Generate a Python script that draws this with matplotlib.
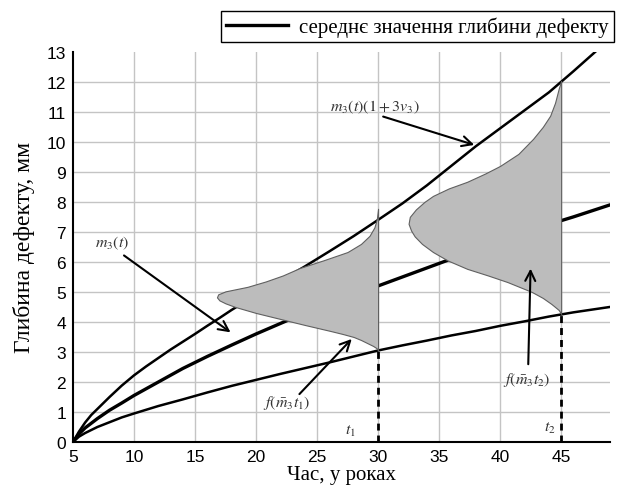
import numpy as np
import matplotlib
matplotlib.use("Agg")
from matplotlib import pyplot as plt

plt.rcParams['mathtext.fontset'] = 'stix'

# curves (time in years, depth in mm)
t_upper = [5, 5.5, 6, 6.5, 7, 7.5, 8, 9, 10, 11, 12, 13, 14, 15, 16, 17, 18, 20, 22, 24,
           26, 28, 30, 32, 34, 36, 38, 40, 42, 44, 46, 47.8]
d_upper = [0, 0.35, 0.65, 0.9, 1.1, 1.3, 1.5, 1.88, 2.22, 2.52, 2.8, 3.08, 3.34, 3.6, 3.87,
           4.13, 4.4, 4.9, 5.37, 5.85, 6.35, 6.86, 7.4, 7.95, 8.55, 9.2, 9.85, 10.45, 11.05,
           11.65, 12.35, 13.0]

t_mean = [5, 5.5, 6, 7, 8, 9, 10, 12, 14, 16, 18, 20, 22, 24, 26, 28, 30, 32, 34, 36, 38,
          40, 42, 44, 46, 49]
d_mean = [0, 0.27, 0.47, 0.78, 1.06, 1.3, 1.55, 2.0, 2.45, 2.85, 3.23, 3.6, 3.95, 4.3, 4.6,
          4.9, 5.2, 5.5, 5.8, 6.1, 6.4, 6.7, 6.95, 7.25, 7.5, 7.9]

t_lower = [5, 5.5, 6, 7, 8, 9, 10, 12, 14, 16, 18, 20, 22, 24, 26, 28, 30, 32, 34, 36, 38,
           40, 42, 44, 46, 49]
d_lower = [0, 0.18, 0.3, 0.5, 0.66, 0.82, 0.95, 1.2, 1.42, 1.65, 1.87, 2.07, 2.27, 2.46,
           2.65, 2.85, 3.05, 3.22, 3.38, 3.55, 3.7, 3.87, 4.02, 4.18, 4.32, 4.5]

# density shapes at t1 and t2
t1, t2 = 30, 45
pdf1_y = [3.05, 3.12, 3.2, 3.3, 3.4, 3.5, 3.6, 3.7, 3.9, 4.1, 4.3, 4.5, 4.62, 4.72, 4.82,
          4.92, 5.02, 5.17, 5.35, 5.55, 5.8, 6.05, 6.33, 6.6, 6.87, 7.15, 7.43, 7.77]
pdf1_t = [30, 29.9, 29.6, 29.1, 28.6, 28.0, 27.1, 26.1, 24.0, 22.0, 20.0, 18.3, 17.5, 17.0,
          16.8, 16.9, 17.5, 19.3, 20.8, 22.2, 23.6, 25.5, 27.5, 28.6, 29.3, 29.7, 29.9, 30]
pdf2_y = [4.27, 4.4, 4.6, 4.8, 5.0, 5.33, 5.55, 5.77, 6.05, 6.33, 6.6, 6.85, 7.05, 7.27,
          7.5, 7.75, 8.0, 8.2, 8.45, 8.67, 8.95, 9.2, 9.6, 10.1, 10.5, 10.87, 11.3, 11.77,
          12.03]
pdf2_t = [45, 44.8, 44.2, 43.5, 42.6, 40.6, 39.0, 37.3, 35.7, 34.5, 33.6, 33.0, 32.7, 32.5,
          32.6, 33.1, 33.8, 34.5, 35.8, 37.3, 38.8, 40.0, 41.5, 42.7, 43.5, 44.1, 44.5, 44.8,
          45]

x_ticks = [5, 10, 15, 20, 25, 30, 35, 40, 45]
y_ticks = list(range(0, 14))

fig = plt.figure(figsize=(6.18, 4.89), dpi=100)
ax = fig.add_axes([0.118, 0.094, 0.869, 0.798])

ax.set_xlim(5, 49)
ax.set_ylim(0, 13)
for x in x_ticks[1:]:
    ax.axvline(x, color='#c4c4c4', lw=1, zorder=0)
for y in y_ticks[1:13]:
    ax.axhline(y, color='#c4c4c4', lw=1, zorder=0)

ax.plot(t_upper, d_upper, color='black', lw=1.8, zorder=2)
mean_line, = ax.plot(t_mean, d_mean, color='black', lw=2.4, zorder=2)
ax.plot(t_lower, d_lower, color='black', lw=1.8, zorder=2)

ax.fill_betweenx(pdf1_y, pdf1_t, t1, color='#bcbcbc', edgecolor='#606060', lw=0.8, zorder=3)
ax.fill_betweenx(pdf2_y, pdf2_t, t2, color='#bcbcbc', edgecolor='#606060', lw=0.8, zorder=3)

ax.plot([t1, t1], [0, 3.05], color='black', lw=2, ls=(0, (2.5, 1.8)), zorder=4)
ax.plot([t2, t2], [0, 4.27], color='black', lw=2, ls=(0, (2.5, 1.8)), zorder=4)

arrow = dict(arrowstyle='->', lw=1.5, color='black', mutation_scale=18)
tk = dict(fontsize=11.5, color='#333333', ha='center', va='center')
ax.annotate('', xy=(38.1, 9.87), xytext=(30.2, 10.87), arrowprops=arrow, zorder=5)
ax.text(29.75, 11.17, r'$m_3(t)(1+3v_3)$', **tk)
ax.annotate('', xy=(18.1, 3.6), xytext=(9.0, 6.27), arrowprops=arrow, zorder=5)
ax.text(8.2, 6.67, r'$m_3(t)$', **tk)
ax.annotate('', xy=(28.0, 3.5), xytext=(23.4, 1.53), arrowprops=arrow, zorder=5)
ax.text(22.5, 1.33, r'$f(\bar{m}_3 t_1)$', **tk)
ax.annotate('', xy=(42.5, 5.87), xytext=(42.3, 2.5), arrowprops=arrow, zorder=5)
ax.text(42.2, 2.1, r'$f(\bar{m}_3 t_2)$', **tk)
ax.text(27.7, 0.4, r'$t_1$', **tk)
ax.text(44.1, 0.5, r'$t_2$', **tk)

ax.set_xticks(x_ticks)
ax.set_yticks(y_ticks)
ax.tick_params(length=0, labelsize=12.5, pad=5)
for lab in ax.get_xticklabels() + ax.get_yticklabels():
    lab.set_family('Liberation Sans')
ax.spines['top'].set_visible(False)
ax.spines['right'].set_visible(False)
ax.spines['left'].set_linewidth(1.5)
ax.spines['bottom'].set_linewidth(1.5)

ax.set_xlabel('Час, у роках', family='Liberation Serif', fontsize=15, labelpad=1)
ax.set_ylabel('Глибина дефекту, мм', family='Liberation Serif', fontsize=17, labelpad=8)

fig.legend([mean_line], ['середнє значення глибини дефекту'], loc='upper right',
           bbox_to_anchor=(0.993, 0.975), borderaxespad=0, fancybox=False,
           edgecolor='black', framealpha=1, handlelength=3.0, borderpad=0.25,
           handletextpad=0.5, prop={'family': 'Liberation Serif', 'size': 15})

fig.savefig('out.png', dpi=100)
